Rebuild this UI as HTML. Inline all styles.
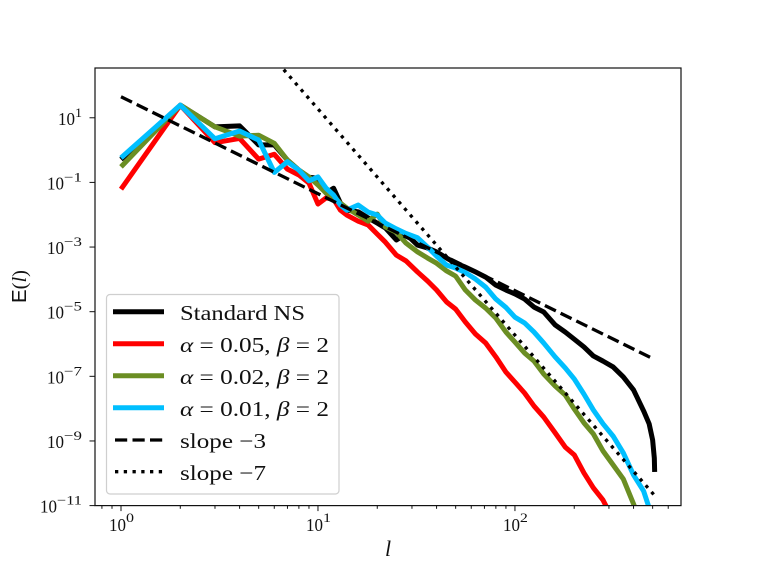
<!DOCTYPE html>
<html lang="en">
<head>
<meta charset="utf-8">
<title>Energy spectrum chart</title>
<style>
html,body{margin:0;padding:0;background:#fff;width:757px;height:568px;overflow:hidden}
svg{display:block}
text{font-family:"Liberation Serif",serif;fill:#111}
</style>
</head>
<body>
<svg id="chart" xmlns="http://www.w3.org/2000/svg" width="757" height="568" viewBox="0 0 757 568">
  <defs>
    <clipPath id="plot-clip"><rect x="95" y="68" width="586" height="437.6"></rect></clipPath>
  </defs>
  <g id="marks" clip-path="url(#plot-clip)"></g>
  <rect x="95" y="68" width="586" height="437.6" fill="none" stroke="#111" stroke-width="1.2"></rect>
  <g id="ticks"></g>
  <text x="385" y="556" font-size="22" font-style="italic">l</text>
  <text transform="translate(26,303) rotate(-90)" font-size="20" textLength="33" lengthAdjust="spacingAndGlyphs"><tspan style="font-family:'Liberation Sans',sans-serif">E</tspan>(<tspan font-style="italic">l</tspan>)</text>
  <g>
    <rect x="106.5" y="294.5" width="232.5" height="199.5" rx="3.5" fill="#fff" fill-opacity="0.8" stroke="#cfcfcf" stroke-width="1.2"></rect>
    <g>
      <line x1="113" y1="311.7" x2="164" y2="311.7" stroke="#000" stroke-width="5"></line>
      <text x="180" y="320" font-size="21" textLength="125" lengthAdjust="spacingAndGlyphs">Standard NS</text>
    </g>
    <g>
      <line x1="113" y1="343.7" x2="164" y2="343.7" stroke="#ff0000" stroke-width="5"></line>
      <text x="180" y="352" font-size="21" textLength="149" lengthAdjust="spacingAndGlyphs"><tspan font-style="italic">α</tspan> = 0.05, <tspan font-style="italic">β</tspan> = 2</text>
    </g>
    <g>
      <line x1="113" y1="375.7" x2="164" y2="375.7" stroke="#6b8e23" stroke-width="5"></line>
      <text x="180" y="384" font-size="21" textLength="149" lengthAdjust="spacingAndGlyphs"><tspan font-style="italic">α</tspan> = 0.02, <tspan font-style="italic">β</tspan> = 2</text>
    </g>
    <g>
      <line x1="113" y1="407.7" x2="164" y2="407.7" stroke="#00bfff" stroke-width="5"></line>
      <text x="180" y="416" font-size="21" textLength="149" lengthAdjust="spacingAndGlyphs"><tspan font-style="italic">α</tspan> = 0.01, <tspan font-style="italic">β</tspan> = 2</text>
    </g>
    <g>
      <line x1="115" y1="440" x2="164" y2="440" stroke="#000" stroke-width="3.3" stroke-dasharray="12.2 5.3"></line>
      <text x="180" y="448" font-size="21" textLength="86" lengthAdjust="spacingAndGlyphs">slope −3</text>
    </g>
    <g>
      <line x1="115" y1="471.7" x2="164" y2="471.7" stroke="#000" stroke-width="3.3" stroke-dasharray="3.3 5.45"></line>
      <text x="180" y="480" font-size="21" textLength="86" lengthAdjust="spacingAndGlyphs">slope −7</text>
    </g>
  </g>
</svg>
<script>
// Wavenumbers shared by all spectra
const wavenumbers = [1,2,3,4,5,6,7,8,9,10,11,12,13,14,16,18,20,22,25,28,32,36,40,45,50,56,63,71,80,90,100,112,125,140,160,180,200,224,250,280,315,355,400,450,480,500,510,512];
// log10 E(l) for each series
const standardNS = [-0.29,1.39,0.72,0.75,0.16,0.16,-0.31,-0.62,-0.84,-0.87,-1.33,-1.18,-1.64,-1.86,-1.91,-2.10,-2.26,-2.41,-2.78,-2.60,-2.94,-3.03,-3.15,-3.34,-3.50,-3.62,-3.77,-3.93,-4.18,-4.33,-4.45,-4.61,-4.86,-5.01,-5.41,-5.63,-5.85,-6.09,-6.37,-6.53,-6.71,-7.02,-7.42,-8.07,-8.47,-8.97,-9.53,-9.96];
const alpha005 = [-1.21,1.39,0.23,0.36,-0.28,-0.13,-0.59,-0.77,-1.02,-1.67,-1.48,-1.52,-1.86,-2.01,-2.20,-2.32,-2.60,-2.85,-3.25,-3.43,-3.77,-4.05,-4.33,-4.70,-4.92,-5.32,-5.69,-5.97,-6.40,-6.87,-7.18,-7.52,-7.92,-8.26,-8.75,-9.19,-9.43,-9.99,-10.45,-10.83,-11.44,-12.06,-12.68,-13.30,-13.61,-13.92,-14.23,-14.54];
const alpha002 = [-0.52,1.39,0.72,0.43,0.46,0.21,-0.31,-0.62,-0.83,-1.08,-1.33,-1.45,-1.64,-1.79,-2.01,-2.20,-1.98,-2.38,-2.54,-2.88,-3.15,-3.34,-3.50,-3.74,-3.90,-4.33,-4.64,-4.89,-5.20,-5.63,-5.94,-6.28,-6.53,-6.93,-7.30,-7.58,-8.01,-8.44,-8.78,-9.31,-9.74,-10.18,-10.95,-11.75,-12.22,-12.68,-12.99,-13.30];
const alpha001 = [-0.24,1.39,0.35,0.59,0.31,-0.69,-0.36,-0.62,-0.95,-0.83,-1.18,-1.39,-1.70,-1.86,-1.70,-1.92,-2.01,-2.26,-2.44,-2.58,-2.71,-3.00,-3.28,-3.56,-3.65,-3.79,-3.99,-4.24,-4.61,-4.87,-5.17,-5.35,-5.63,-5.97,-6.40,-6.74,-7.08,-7.55,-8.04,-8.47,-8.85,-9.37,-10.05,-10.55,-11.07,-11.60,-11.91,-12.22];
// Reference slopes
const slope3L = [1,512];
const slope3E = [1.65,-6.48];
const slope7L = [6.7,512];
const slope7E = [2.49,-10.69];
// Tick labels (powers of ten)
const xTickPowers = [0,1,2];
const yTickPowers = [1,-1,-3,-5,-7,-9,-11];
const xMinorFactors = [2,3,4,5,6,7,8,9];

const NS = 'http://www.w3.org/2000/svg';
const plotLeft = 95, plotRight = 681, plotTop = 68, plotBottom = 505.6;
const xLogMin = -0.132, xLogMax = 2.843, yLogMax = 2.54, yLogMin = -11;

function xScale(l) {
  return plotLeft + (Math.log10(l) - xLogMin) / (xLogMax - xLogMin) * (plotRight - plotLeft);
}
function yScale(logE) {
  return plotTop + (yLogMax - logE) / (yLogMax - yLogMin) * (plotBottom - plotTop);
}
function pathFor(ls, es) {
  // Stop just after the first point below the axis floor: the rest would be clipped anyway.
  const parts = [];
  for (let i = 0; i < ls.length; i++) {
    parts.push((i ? 'L' : 'M') + xScale(ls[i]).toFixed(2) + ' ' + yScale(es[i]).toFixed(2));
    if (es[i] < yLogMin) break;
  }
  return parts.join(' ');
}
function drawSeries(ls, es, color, width, dash, name) {
  const p = document.createElementNS(NS, 'path');
  
  
  p.setAttribute('d', pathFor(ls, es));
  p.setAttribute('fill', 'none');
  p.setAttribute('stroke', color);
  p.setAttribute('stroke-width', width);
  p.setAttribute('stroke-linejoin', 'round');
  if (dash) p.setAttribute('stroke-dasharray', dash);
  document.getElementById('marks').appendChild(p);
}
function drawTick(x1, y1, x2, y2, name) {
  const t = document.createElementNS(NS, 'line');
  
  
  t.setAttribute('x1', x1);
  t.setAttribute('y1', y1);
  t.setAttribute('x2', x2);
  t.setAttribute('y2', y2);
  t.setAttribute('stroke', '#111');
  t.setAttribute('stroke-width', '1');
  document.getElementById('ticks').appendChild(t);
}
function drawPower(power, baseEndX, supEndX, baseY, supY, name) {
  const g = document.createElementNS(NS, 'g');
  
  
  const base = document.createElementNS(NS, 'text');
  base.setAttribute('x', baseEndX - 17);
  base.setAttribute('y', baseY);
  base.setAttribute('font-size', '18');
  base.setAttribute('textLength', '17');
  base.setAttribute('lengthAdjust', 'spacingAndGlyphs');
  base.textContent = '10';
  const sup = document.createElementNS(NS, 'text');
  const supText = String(power).replace('-', '−');
  sup.setAttribute('x', baseEndX);
  sup.setAttribute('y', supY);
  sup.setAttribute('font-size', '13');
  sup.setAttribute('textLength', supEndX - baseEndX);
  sup.setAttribute('lengthAdjust', 'spacingAndGlyphs');
  sup.textContent = supText;
  g.appendChild(base);
  g.appendChild(sup);
  document.getElementById('ticks').appendChild(g);
}

drawSeries(wavenumbers, standardNS, '#000000', 5, null, 'series-standard-ns');
drawSeries(wavenumbers, alpha005, '#ff0000', 5, null, 'series-alpha-005');
drawSeries(wavenumbers, alpha002, '#6b8e23', 5, null, 'series-alpha-002');
drawSeries(wavenumbers, alpha001, '#00bfff', 5, null, 'series-alpha-001');
drawSeries(slope3L, slope3E, '#000000', 3.3, '12.2 5.3', 'reference-slope-3');
drawSeries(slope7L, slope7E, '#000000', 3.3, '3.3 5.45', 'reference-slope-7');

xTickPowers.forEach(function (p) {
  const x = xScale(Math.pow(10, p));
  drawTick(x, plotBottom, x, plotBottom + 5.5, 'x-major-tick');
  drawPower(p, x + 5, x + 13, 531, 522, 'x-tick-label');
});
[-1, 0, 1, 2].forEach(function (p) {
  xMinorFactors.forEach(function (f) {
    const l = f * Math.pow(10, p);
    const x = xScale(l);
    if (x >= plotLeft && x <= plotRight) {
      drawTick(x, plotBottom, x, plotBottom + 3.2, 'x-minor-tick');
    }
  });
});
yTickPowers.forEach(function (p) {
  const y = yScale(p);
  drawTick(plotLeft - 5.5, y, plotLeft, y, 'y-major-tick');
  const supWidth = p === 1 ? 7 : (p === -11 ? 25 : 18);
  drawPower(p, 82 - supWidth, 82, y + 7, y - 1, 'y-tick-label');
});
</script>
</body>
</html>
